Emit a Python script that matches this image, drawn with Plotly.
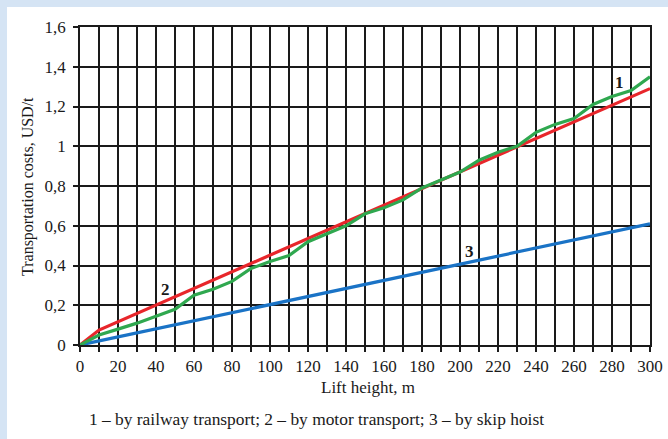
import plotly.graph_objects as go

# Data
lift_height = [0, 10, 20, 30, 40, 50, 60, 70, 80, 90, 100, 110, 120, 130, 140, 150,
               160, 170, 180, 190, 200, 210, 220, 230, 240, 250, 260, 270, 280, 290, 300]
railway_x = [0, 10, 300]
railway_y = [0, 0.075, 1.29]
motor_y = [0, 0.05, 0.08, 0.11, 0.145, 0.18, 0.25, 0.28, 0.32, 0.385, 0.42, 0.45, 0.52,
           0.56, 0.60, 0.66, 0.69, 0.73, 0.79, 0.83, 0.87, 0.93, 0.97, 1.00, 1.07, 1.11,
           1.14, 1.21, 1.25, 1.28, 1.35]
skip_x = [0, 300]
skip_y = [0, 0.61]

x_tickvals = list(range(0, 301, 10))
x_ticktext = [str(v) if v % 20 == 0 else "" for v in x_tickvals]
y_tickvals = [0, 0.2, 0.4, 0.6, 0.8, 1.0, 1.2, 1.4, 1.6]
y_ticktext = ["0", "0,2", "0,4", "0,6", "0,8", "1", "1,2", "1,4", "1,6"]

curve_labels = ["1", "2", "3"]
label_x = [284, 45, 205]
label_y = [1.32, 0.28, 0.47]

x_title = "Lift height, m"
y_title = "Transportation costs, USD/t"
caption = "1 – by railway transport; 2 – by motor transport; 3 – by skip hoist"

FONT = "Liberation Serif"
INK = "#1a1a1a"

# plot-area geometry in pixels (for placing the outer texts)
L, R, T, B = 80, 650, 27, 345
PW, PH = R - L, B - T


def px_x(p):
    return (p - L) / PW


def px_y(p):
    return (B - p) / PH


fig = go.Figure()
fig.add_trace(go.Scatter(x=skip_x, y=skip_y, mode="lines",
                         line=dict(color="#1a73c6", width=3.2), showlegend=False))
fig.add_trace(go.Scatter(x=railway_x, y=railway_y, mode="lines",
                         line=dict(color="#e8262b", width=3.2), showlegend=False))
fig.add_trace(go.Scatter(x=lift_height, y=motor_y, mode="lines",
                         line=dict(color="#2fa84f", width=3.2), showlegend=False))

for t, xv, yv in zip(curve_labels, label_x, label_y):
    fig.add_annotation(x=xv, y=yv, text=f"<b>{t}</b>", showarrow=False,
                       font=dict(family=FONT, size=17, color=INK))

fig.add_annotation(xref="paper", yref="paper", x=px_x(368), y=px_y(387), text=x_title,
                   showarrow=False, xanchor="center", yanchor="middle",
                   font=dict(family=FONT, size=17, color=INK))
fig.add_annotation(xref="paper", yref="paper", x=px_x(28), y=px_y(187), text=y_title,
                   showarrow=False, xanchor="center", yanchor="middle", textangle=-90,
                   font=dict(family=FONT, size=16, color=INK))
fig.add_annotation(xref="paper", yref="paper", x=px_x(316), y=px_y(419), text=caption,
                   showarrow=False, xanchor="center", yanchor="middle",
                   font=dict(family=FONT, size=17.4, color=INK))

# light blue frame strips (top and left)
fig.add_shape(type="rect", xref="paper", yref="paper", x0=-0.3, x1=1.2,
              y0=px_y(7), y1=1.3, fillcolor="#d5e4f4", line_width=0, layer="below")
fig.add_shape(type="rect", xref="paper", yref="paper", x0=-0.3, x1=px_x(7),
              y0=-0.5, y1=1.3, fillcolor="#d5e4f4", line_width=0, layer="below")

fig.update_layout(
    width=668, height=439,
    margin=dict(l=L, r=668 - R, t=T, b=439 - B, autoexpand=False),
    paper_bgcolor="white", plot_bgcolor="white",
    font=dict(family=FONT, size=17, color=INK),
    xaxis=dict(range=[0, 300], tickvals=x_tickvals, ticktext=x_ticktext,
               showgrid=True, gridcolor=INK, gridwidth=1.6,
               ticks="outside", ticklen=5, tickwidth=1.6, tickcolor=INK,
               showline=True, mirror=True, linecolor=INK, linewidth=1.6,
               zeroline=False, tickfont=dict(family=FONT, size=17, color=INK)),
    yaxis=dict(range=[0, 1.6], tickvals=y_tickvals, ticktext=y_ticktext,
               showgrid=True, gridcolor=INK, gridwidth=1.6,
               ticks="outside", ticklen=5, tickwidth=1.6, tickcolor=INK,
               showline=True, mirror=True, linecolor=INK, linewidth=1.6,
               zeroline=False, ticklabelstandoff=4,
               tickfont=dict(family=FONT, size=17, color=INK)),
)

fig.write_html("out.html", config={"displayModeBar": False},
               post_script="document.body.style.margin='0';")
